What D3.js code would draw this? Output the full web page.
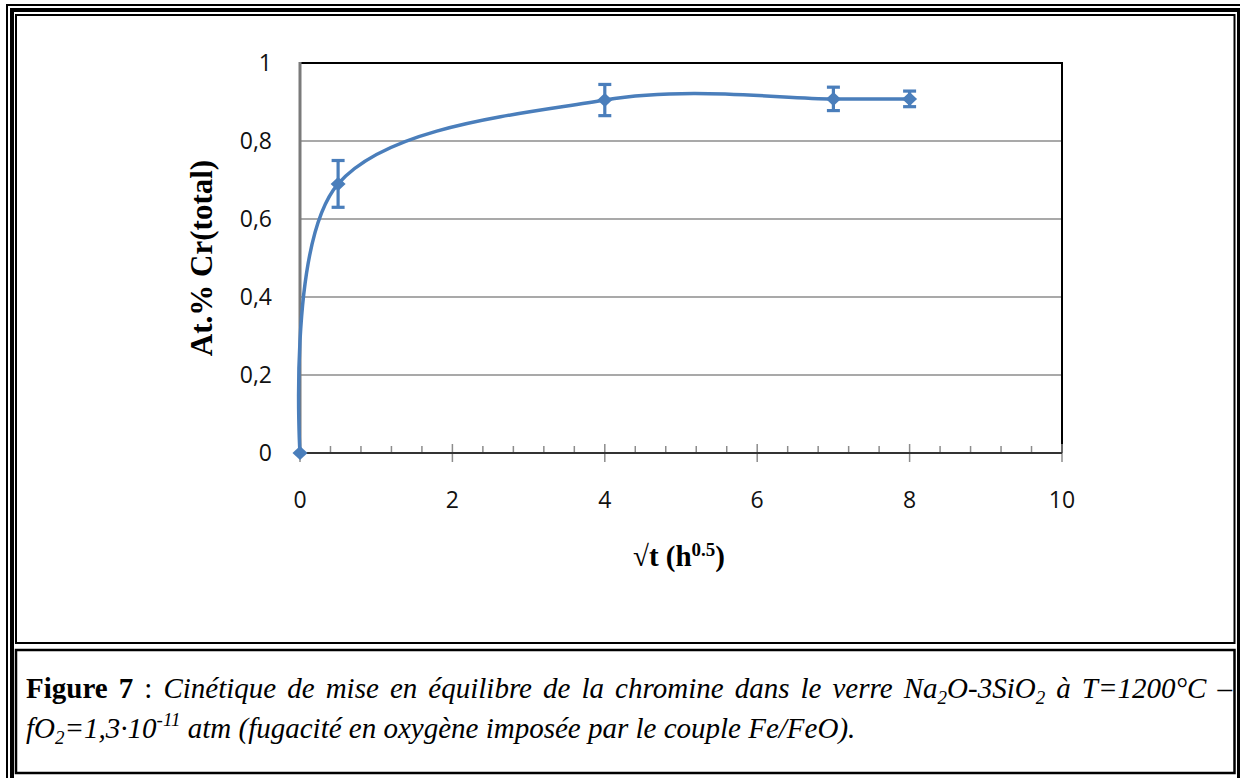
<!DOCTYPE html>
<html><head><meta charset="utf-8">
<script src="https://cdn.jsdelivr.net/npm/d3@7"></script>
<style>body{margin:0;background:#fff} svg{display:block}</style>
</head><body><svg id="c" width="1240" height="778"></svg>
<script>
// ---- data ----
const xValues = [0, 0.5, 4, 7, 8];
const yValues = [0, 0.69, 0.905, 0.908, 0.908];
const yErrors = [0, 0.06, 0.04, 0.03, 0.02];
const xTicks = [0, 2, 4, 6, 8, 10];
const xTickLabels = ["0", "2", "4", "6", "8", "10"];
const xMinorStep = 0.4;
const yTicks = [0, 0.2, 0.4, 0.6, 0.8, 1];
const yTickLabels = ["0", "0,2", "0,4", "0,6", "0,8", "1"];
const yTitle = "At.% Cr(total)";

const svg = d3.select("#c");
const blue = "#4a7ebb";

// ---- frame (document table borders) ----
const fr = svg.append("g").attr("fill", "none").attr("stroke", "#000");
fr.append("path").attr("d", "M7,790 V5 H1250").attr("stroke-width", 2);
fr.append("path").attr("d", "M12,790 V10 H1239 V790").attr("stroke-width", 4);
fr.append("rect").attr("x", 16).attr("y", 15).attr("width", 1218.5).attr("height", 628).attr("stroke-width", 2);
fr.append("rect").attr("x", 16).attr("y", 650).attr("width", 1218.5).attr("height", 123).attr("stroke-width", 2.5);

// ---- scales ----
const x = d3.scaleLinear().domain([0, 10]).range([300, 1062]);
const y = d3.scaleLinear().domain([0, 1]).range([453, 63]);

// gridlines
svg.append("g").selectAll("line").data(yTicks.filter(v => v > 0 && v < 1)).join("line")
  .attr("x1", x(0)).attr("x2", x(10)).attr("y1", d => y(d)).attr("y2", d => y(d))
  .attr("stroke", "#8c8c8c").attr("stroke-width", 1.5);

// plot border top/right
svg.append("path").attr("d", `M${x(0)},${y(1)} H${x(10)} V${y(0)}`)
  .attr("fill", "none").attr("stroke", "#000").attr("stroke-width", 2);

// y axis line
svg.append("line").attr("x1", x(0)).attr("x2", x(0)).attr("y1", y(1) - 1).attr("y2", y(0))
  .attr("stroke", "#7a7a7a").attr("stroke-width", 3);

const sans = "'Open Sans', sans-serif";
// y tick labels
svg.append("g").selectAll("text").data(yTicks).join("text")
  .attr("x", 272).attr("y", d => y(d)).attr("dy", "0.36em")
  .attr("text-anchor", "end").attr("font-family", sans)
  .attr("font-size", 23).attr("fill", "#111")
  .text((d, i) => yTickLabels[i]);

// x axis (minor ticks inside, major crossing)
const minor = d3.range(0, Math.round(10 / xMinorStep) + 1).map(i => +(i * xMinorStep).toFixed(2))
  .filter(v => !xTicks.some(t => Math.abs(t - v) < 1e-6));
svg.append("g").selectAll("line").data(minor).join("line")
  .attr("x1", d => x(d)).attr("x2", d => x(d)).attr("y1", y(0) - 7).attr("y2", y(0))
  .attr("stroke", "#8c8c8c").attr("stroke-width", 1.5);
svg.append("g").selectAll("line").data(xTicks).join("line")
  .attr("x1", d => x(d)).attr("x2", d => x(d)).attr("y1", y(0) - 9).attr("y2", y(0) + 9)
  .attr("stroke", "#8c8c8c").attr("stroke-width", 1.5);
svg.append("line").attr("x1", x(0)).attr("x2", x(10)).attr("y1", y(0)).attr("y2", y(0))
  .attr("stroke", "#333").attr("stroke-width", 2);

svg.append("g").selectAll("text").data(xTicks).join("text")
  .attr("x", d => x(d)).attr("y", 500).attr("dy", "0.36em")
  .attr("text-anchor", "middle").attr("font-family", sans)
  .attr("font-size", 23).attr("fill", "#111")
  .text((d, i) => xTickLabels[i]);

// ---- series ----
const pts = xValues.map((v, i) => ({x: v, y: yValues[i], e: yErrors[i]}));
const line = d3.line().x(d => x(d.x)).y(d => y(d.y)).curve(d3.curveCardinal.tension(0));
svg.append("path").datum(pts).attr("d", line)
  .attr("fill", "none").attr("stroke", blue).attr("stroke-width", 3.5);

// error bars
const eb = svg.append("g").attr("stroke", blue).attr("stroke-width", 3.2).attr("fill", "none");
pts.filter(d => d.e > 0).forEach(d => {
  const cx = x(d.x), t = y(d.y + d.e), b = y(d.y - d.e);
  eb.append("line").attr("x1", cx).attr("x2", cx).attr("y1", t).attr("y2", b);
  eb.append("line").attr("x1", cx - 6.5).attr("x2", cx + 6.5).attr("y1", t).attr("y2", t);
  eb.append("line").attr("x1", cx - 6.5).attr("x2", cx + 6.5).attr("y1", b).attr("y2", b);
});

// markers
svg.append("g").selectAll("path").data(pts).join("path")
  .attr("transform", d => `translate(${x(d.x)},${y(d.y)})`)
  .attr("d", "M0,-7 L7.5,0 L0,7 L-7.5,0 Z")
  .attr("fill", blue);

// ---- axis titles ----
const serif = "'Liberation Serif', 'Times New Roman', serif";
svg.append("text").attr("transform", `translate(212,${(y(0) + y(1)) / 2}) rotate(-90)`)
  .attr("text-anchor", "middle").attr("font-family", serif)
  .attr("font-weight", "bold").attr("font-size", 31).text(yTitle);

const xt = svg.append("text").attr("x", (x(0) + x(10)) / 2 - 2).attr("y", 566)
  .attr("text-anchor", "middle").attr("font-family", serif)
  .attr("font-weight", "bold").attr("font-size", 29);
xt.append("tspan").text("\u221At (h");
xt.append("tspan").attr("font-size", 19).attr("dy", -10).text("0.5");
xt.append("tspan").attr("dy", 10).text(")");

// ---- caption ----
const cap1 = svg.append("text").attr("x", 26).attr("y", 698).attr("font-family", serif).attr("font-size", 29).attr("fill", "#000");
cap1.append("tspan").attr("font-weight", "bold").text("Figure 7");
cap1.append("tspan").text(" : ");
const it1 = [["Cinétique de mise en équilibre de la chromine dans le verre Na", 0], ["2", 1], ["O-3SiO", 0], ["2", 1], [" à T=1200°C –", 0]];
let prev = 0;
it1.forEach(([s, sub]) => {
  const dy = (sub ? 6 : 0) - prev; prev = sub ? 6 : 0;
  cap1.append("tspan").attr("font-style", "italic").attr("font-size", sub ? 19 : 29).attr("dy", dy).text(s);
});
const nat = cap1.node().getComputedTextLength();
const nSpaces = (cap1.text().match(/ /g) || []).length;
cap1.attr("word-spacing", Math.max(0, ((1232 - 26) - nat) / nSpaces));

const cap2 = svg.append("text").attr("x", 26).attr("y", 738).attr("font-family", serif).attr("font-size", 29)
  .attr("font-style", "italic").attr("fill", "#000");
cap2.append("tspan").text("fO");
cap2.append("tspan").attr("font-size", 19).attr("dy", 6).text("2");
cap2.append("tspan").attr("dy", -6).text("=1,3·10");
cap2.append("tspan").attr("font-size", 19).attr("dy", -12).text("-11");
cap2.append("tspan").attr("dy", 12).text(" atm (fugacité en oxygène imposée par le couple Fe/FeO).");
</script></body></html>
